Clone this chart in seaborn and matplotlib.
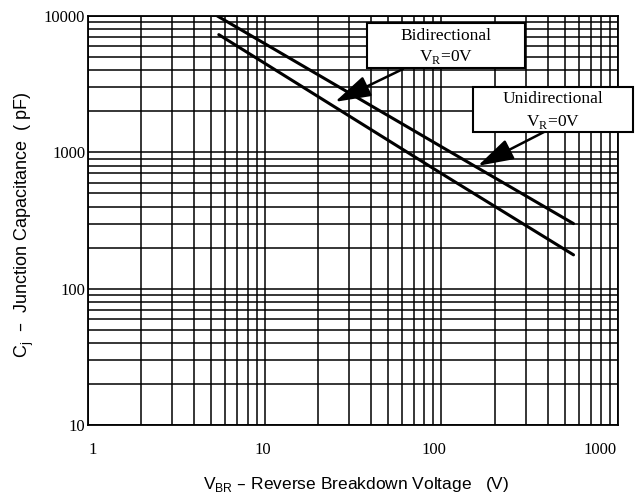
import matplotlib
matplotlib.use("Agg")
import matplotlib.pyplot as plt
import matplotlib.transforms as mtransforms
from matplotlib.patches import Rectangle
import seaborn as sns
import pandas as pd
import numpy as np

# ---- data ----
bi_v = [5.4, 100, 560]
bi_c = [10000, 1100, 300]
uni_v = [5.5, 100, 560]
uni_c = [7300, 700, 177]

x_ticks = [1, 10, 100, 1000]
x_tick_labels = ["1", "10", "100", "1000"]
y_ticks = [10, 100, 1000, 10000]
y_tick_labels = ["10", "100", "1000", "10000"]

df = pd.DataFrame({
    "V": bi_v + uni_v,
    "C": bi_c + uni_c,
    "type": ["Bidirectional"] * len(bi_v) + ["Unidirectional"] * len(uni_v),
})

sns.set_style("white")
plt.rcParams["font.family"] = ["Liberation Sans", "DejaVu Sans"]
plt.rcParams["text.color"] = "black"
plt.rcParams["axes.labelcolor"] = "black"
plt.rcParams["xtick.color"] = "black"
plt.rcParams["ytick.color"] = "black"

fig = plt.figure(figsize=(6.38, 5.0), dpi=100)
W, H = 638, 500
ax = fig.add_axes([88 / W, 1 - 425 / H, 530 / W, 409 / H])

sns.lineplot(data=df, x="V", y="C", hue="type", palette=["black", "black"],
             legend=False, lw=2.2, ax=ax, zorder=3)

ax.set_xscale("log")
ax.set_yscale("log")
ax.set_xlim(1, 1000)
ax.set_ylim(10, 10000)

ax.grid(True, which="both", color="black", lw=1.1)
ax.set_axisbelow(True)
for s in ax.spines.values():
    s.set_color("black")
    s.set_linewidth(1.3)

ax.set_xticks(x_ticks)
ax.set_xticklabels(x_tick_labels)
ax.set_yticks(y_ticks)
ax.set_yticklabels(y_tick_labels)
ax.tick_params(which="both", length=0)
ax.tick_params(axis="x", pad=12)
ax.tick_params(axis="y", pad=2)
for lab in ax.get_xticklabels() + ax.get_yticklabels():
    lab.set_family(["Liberation Serif", "DejaVu Serif"])
    lab.set_fontsize(12)

# nudge x tick labels as in the reference
x_offsets = [5, -2, -7, -18]
for lab, dx in zip(ax.get_xticklabels(), x_offsets):
    lab.set_transform(lab.get_transform() +
                      mtransforms.ScaledTranslation(dx / 100, 0, fig.dpi_scale_trans))

ax.set_xlabel(r"V$_{\mathregular{BR}}$ – Reverse Breakdown Voltage   (V)", fontsize=12.5)
ax.set_ylabel(r"C$_{\mathregular{j}}$  –  Junction Capacitance  ( pF)", fontsize=13)
ax.xaxis.set_label_coords((356 - 88) / 530, (425 - 485) / 409)
ax.xaxis.label.set_va("center")
ax.yaxis.set_label_coords((24 - 88) / 530, (425 - 225) / 409)
ax.yaxis.label.set_va("center")

# annotation boxes (pixel layout)
def fx(px):
    return px / W

def fy(py):
    return 1 - py / H

serif = ["Liberation Serif", "DejaVu Serif"]
boxes = [
    ((367, 23, 525, 68), "Bidirectional", (446, 36), (446, 57)),
    ((473, 87, 633, 132), "Unidirectional", (553, 99), (553, 122)),
]
for (x0, y0, x1, y1), name, p1, p2 in boxes:
    fig.add_artist(Rectangle((fx(x0), fy(y1)), fx(x1) - fx(x0), fy(y0) - fy(y1),
                             transform=fig.transFigure, facecolor="white",
                             edgecolor="black", lw=1.5, zorder=5))
    fig.text(fx(p1[0]), fy(p1[1]), name, ha="center", va="center",
             family=serif, fontsize=12.5, zorder=6)
    fig.text(fx(p2[0]), fy(p2[1]), r"V$_{\mathregular{R}}$=0V", ha="center",
             va="center", family=serif, fontsize=12.5, zorder=6)

arrow_kw = dict(arrowstyle="-|>,head_length=1.1,head_width=0.33",
                mutation_scale=20, lw=1.8, color="black", shrinkA=0, shrinkB=0)
ax.annotate("", xy=(25.0, 2344), xycoords="data",
            xytext=(fx(403), fy(69)), textcoords="figure fraction",
            arrowprops=arrow_kw, zorder=6)
ax.annotate("", xy=(161, 796), xycoords="data",
            xytext=(fx(544), fy(132)), textcoords="figure fraction",
            arrowprops=arrow_kw, zorder=6)

fig.savefig("out.png", dpi=100, facecolor="white")
